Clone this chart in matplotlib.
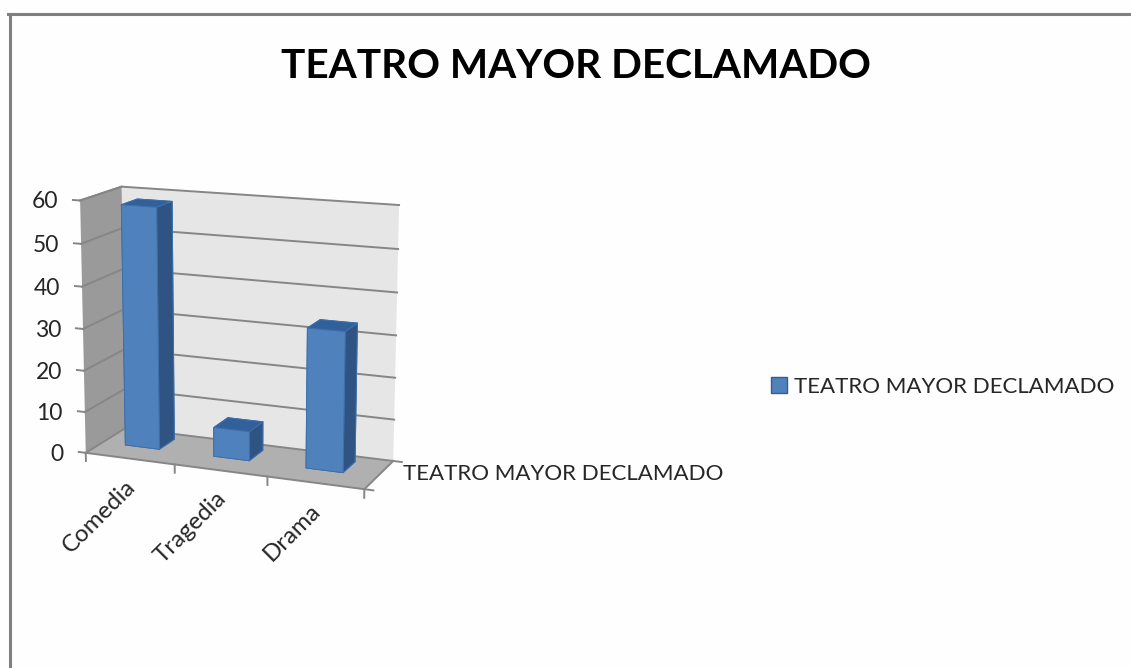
import numpy as np
import matplotlib
matplotlib.use("Agg")
import matplotlib.pyplot as plt
from matplotlib.lines import Line2D
from matplotlib.patches import Patch
from mpl_toolkits.mplot3d import proj3d
from mpl_toolkits.mplot3d.art3d import Poly3DCollection

titulo = "TEATRO MAYOR DECLAMADO"
categorias = ["Comedia", "Tragedia", "Drama"]
valores = [58, 7, 33]
marcas_z = [0, 10, 20, 30, 40, 50, 60]

azul = "#4f81bd"
azul_lado = "#2f5483"
azul_arriba = "#32609a"
gris_linea = "#868686"
color_texto = "#262626"

plt.rcParams["font.family"] = ["Lato", "DejaVu Sans"]

fig = plt.figure(figsize=(11.31, 6.68), dpi=100, facecolor="#fefefe")

# marco gris de arriba y de la izquierda
fig.add_artist(Line2D([9.5 / 1131, 9.5 / 1131], [0, 1 - 13.5 / 668], color="#808080", lw=2.2))
fig.add_artist(Line2D([8 / 1131, 1], [1 - 13.5 / 668, 1 - 13.5 / 668], color="#808080", lw=2.2))

fig.text(576 / 1131, 1 - 67 / 668, titulo, fontsize=29.2, fontweight="bold", color="black",
         ha="center", va="center")

ax = fig.add_axes([34.5 / 1131, 1 - 536 / 668, 397 / 1131, 397 / 668], projection="3d",
                  computed_zorder=False, facecolor="none")
ax.view_init(elev=13.9, azim=-67.8)
ax.set_proj_type("persp", focal_length=0.8)
ax.set_box_aspect((298, 93, 260))
ax.set_xlim(0, len(categorias))
ax.set_ylim(0, 1)
ax.set_zlim(0, 60)
ax.set_axis_off()

nx = len(categorias)
zmax = marcas_z[-1]


def etiqueta(x, y, z, texto, dx, dy, size=16, **kw):
    # texto 2D colocado sobre un punto 3D proyectado
    xp, yp, _ = proj3d.proj_transform(x, y, z, ax.get_proj())
    ax.annotate(texto, xy=(xp, yp), xytext=(dx, dy), textcoords="offset pixels",
                fontsize=size, color=color_texto, annotation_clip=False, **kw)


# paredes y suelo
suelo = [(0, 0, 0), (nx, 0, 0), (nx, 1, 0), (0, 1, 0)]
fondo = [(0, 1, 0), (nx, 1, 0), (nx, 1, zmax), (0, 1, zmax)]
lateral = [(0, 0, 0), (0, 1, 0), (0, 1, zmax), (0, 0, zmax)]
ax.add_collection3d(Poly3DCollection([suelo], facecolor="#b0b0b0", edgecolor="none", zorder=1))
ax.add_collection3d(Poly3DCollection([fondo], facecolor="#e6e6e6", edgecolor="none", zorder=1))
ax.add_collection3d(Poly3DCollection([lateral], facecolor="#9a9a9a", edgecolor="none", zorder=1))

# rejilla y marcas del eje de valores
for v in marcas_z:
    ax.plot([0, 0, nx], [0, 1, 1], [v, v, v], color=gris_linea, lw=1.4, zorder=2)
    ax.plot([-0.08, 0], [0, 0], [v, v], color=gris_linea, lw=1.4, zorder=2)
    etiqueta(0, 0, v, str(v), -22, -1.5, size=16.5, ha="right", va="center")

# bordes del suelo y marcas de categorias
ax.plot([0, nx, nx], [0, 0, 1], [0, 0, 0], color=gris_linea, lw=1.4, zorder=2)
ax.plot([0, 0], [0, 1], [zmax, zmax], color=gris_linea, lw=1.4, zorder=2)
for i in range(nx + 1):
    ax.plot([i, i], [0, 0], [0, -2], color=gris_linea, lw=1.4, zorder=2)
ax.plot([nx, nx + 0.09], [0, 0], [0, 0], color=gris_linea, lw=1.4, zorder=2)
ax.plot([nx, nx + 0.09], [1, 1], [0, 0], color=gris_linea, lw=1.4, zorder=2)

for i, nombre in enumerate(categorias):
    etiqueta(i + 0.5, 0, 0, nombre, 2, -25, size=17.3, rotation=45, ha="right", va="center",
             rotation_mode="anchor")
etiqueta(nx, 0.5, 0, titulo, 24, 1, ha="left", va="center")

# barras: cara -z, +z, -y, +y, -x, +x
xpos = np.arange(nx) + 0.26
caras = [azul_lado, azul_arriba, azul, azul_lado, azul_lado, azul_lado] * nx
ax.bar3d(xpos, np.full(nx, 0.42), np.zeros(nx), 0.39, 0.4, valores, color=caras, shade=False,
         edgecolor="#3f70aa", linewidth=0.7, zorder=3)

fig.legend(handles=[Patch(facecolor=azul, edgecolor="#385d8a", label=titulo)],
           loc="center left", bbox_to_anchor=(771 / 1131, 1 - 387 / 668), frameon=False,
           fontsize=16, handlelength=0.7, handleheight=0.7, handletextpad=0.35,
           labelcolor=color_texto, borderpad=0, borderaxespad=0)

fig.savefig("out.png", dpi=100, facecolor=fig.get_facecolor())
